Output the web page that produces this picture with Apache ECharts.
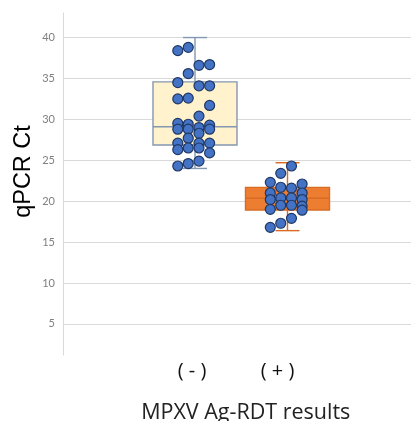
<!DOCTYPE html>
<html>
<head>
<meta charset="utf-8">
<script src="https://cdn.jsdelivr.net/npm/echarts@6/dist/echarts.min.js"></script>
<style>html,body{margin:0;padding:0;background:#fff}#c{width:411px;height:421px}</style>
</head>
<body>
<div id="c"></div>
<script>
// ---- data ----
const categories = ['( - )', '( + )'];
// [min, Q1, median, Q3, max]
const boxNeg = [24.0, 26.86, 29.09, 34.58, 40.0];
const boxPos = [16.4, 18.92, 20.35, 21.69, 24.7];
// swarm points: [column, Ct]
const dotsNeg = [
  [0, 38.4], [0, 34.5], [0, 32.5], [0, 29.5], [0, 28.8], [0, 27.1], [0, 26.3], [0, 24.3],
  [1, 38.8], [1, 35.6], [1, 32.6], [1, 29.4], [1, 28.8], [1, 27.7], [1, 26.5], [1, 24.6],
  [2, 36.6], [2, 34.1], [2, 30.4], [2, 29.0], [2, 28.3], [2, 27.1], [2, 26.5], [2, 24.9],
  [3, 36.7], [3, 34.1], [3, 31.7], [3, 29.3], [3, 28.8], [3, 27.1], [3, 25.9]
];
const dotsPos = [
  [0, 22.3], [0, 21.0], [0, 20.2], [0, 19.0], [0, 16.8],
  [1, 23.4], [1, 21.7], [1, 20.4], [1, 19.5], [1, 17.3],
  [2, 24.3], [2, 21.6], [2, 20.4], [2, 19.5], [2, 17.9],
  [3, 22.1], [3, 21.0], [3, 20.2], [3, 19.4], [3, 18.9]
];
const yTickLabels = [5, 10, 15, 20, 25, 30, 35, 40];
const yTitle = 'qPCR Ct';
const xTitle = 'MPXV Ag-RDT results';

// ---- styles ----
const colOffsets = [-0.186, -0.073, 0.043, 0.158];
const boxFill = ['#fff2cc', '#ed7d31'];
const boxStroke = ['#8497b0', '#d86c25'];
const yMin = 1.2, yMax = 43;

const chart = echarts.init(document.getElementById('c'), null, {renderer: 'canvas'});

function toPts(list, g) { return list.map(d => [g + colOffsets[d[0]], d[1]]); }

const labelFont = {fontFamily: 'Open Sans', fontSize: 20, color: '#111'};

const option = {
  backgroundColor: '#fff',
  animation: false,
  grid: [
    {left: 63, right: 0, top: 13, bottom: 66, outerBoundsMode: 'none'},
    {left: 148.75, width: 185, top: 13, bottom: 66, outerBoundsMode: 'none'}
  ],
  graphic: [
    {type: 'text', x: 24, y: 171.5, rotation: Math.PI / 2, silent: true,
     style: {text: yTitle, fontFamily: 'Liberation Sans', fontSize: 23.5, fill: '#000',
             align: 'center', verticalAlign: 'middle'}}
  ],
  xAxis: [
    {gridIndex: 0, type: 'value', min: 0, max: 1, show: false},
    {gridIndex: 1, type: 'category', data: categories,
     axisLine: {show: false}, axisTick: {show: false}, splitLine: {show: false},
     axisLabel: Object.assign({margin: 6, interval: 0, hideOverlap: false,
       formatter: v => v === categories[0] ? '{n|' + v + '}' : '{p|' + v + '}',
       rich: {n: Object.assign({padding: [0, 6, 0, 0]}, labelFont),
              p: Object.assign({padding: [0, 20, 0, 0]}, labelFont)}}, labelFont),
     name: xTitle, nameLocation: 'middle', nameGap: 47, nameMoveOverlap: false,
     nameTextStyle: {fontFamily: 'Open Sans', fontSize: 21.5, color: '#222', padding: [0, 0, 0, 9]}},
    {gridIndex: 1, type: 'value', min: -0.5, max: 1.5, show: false}
  ],
  yAxis: [
    {gridIndex: 0, type: 'value', min: yMin, max: yMax, splitNumber: 8,
     axisLine: {show: true, lineStyle: {color: '#d9d9d9', width: 1}},
     axisTick: {show: false},
     axisLabel: {color: '#7f7f7f', fontSize: 11, fontFamily: 'Lato', margin: 8,
       showMinLabel: false, showMaxLabel: false,
       formatter: v => yTickLabels.indexOf(Math.round(v * 100) / 100) >= 0 ? String(v) : ''},
     splitLine: {show: true, showMinLine: false, showMaxLine: false, lineStyle: {color: '#d9d9d9', width: 1}}},
    {gridIndex: 1, type: 'value', min: yMin, max: yMax, show: false}
  ],
  series: [
    {
      type: 'custom', xAxisIndex: 1, yAxisIndex: 1, z: 2,
      data: [[0].concat(boxNeg), [1].concat(boxPos)],
      renderItem: function (params, api) {
        const i = api.value(0);
        const c = k => api.coord([i, api.value(k)]);
        const lo = c(1), q1 = c(2), md = c(3), q3 = c(4), hi = c(5);
        const x = lo[0], bw = 84, cap = 24;
        const stroke = boxStroke[params.dataIndex], fill = boxFill[params.dataIndex];
        const ls = {stroke: stroke, lineWidth: 1.4, fill: null};
        return {type: 'group', children: [
          {type: 'line', shape: {x1: x, y1: lo[1], x2: x, y2: hi[1]}, style: ls},
          {type: 'line', shape: {x1: x - cap / 2, y1: lo[1], x2: x + cap / 2, y2: lo[1]}, style: ls},
          {type: 'line', shape: {x1: x - cap / 2, y1: hi[1], x2: x + cap / 2, y2: hi[1]}, style: ls},
          {type: 'rect', shape: {x: x - bw / 2, y: q3[1], width: bw, height: q1[1] - q3[1]},
           style: {fill: fill, stroke: stroke, lineWidth: 1.4}},
          {type: 'line', shape: {x1: x - bw / 2, y1: md[1], x2: x + bw / 2, y2: md[1]}, style: ls}
        ]};
      }
    },
    {
      type: 'scatter', xAxisIndex: 2, yAxisIndex: 1, z: 5,
      symbolSize: 10,
      itemStyle: {color: '#4472c4', borderColor: '#1f3864', borderWidth: 1.2, opacity: 1},
      data: toPts(dotsNeg, 0).concat(toPts(dotsPos, 1))
    }
  ]
};
chart.setOption(option);
</script>
</body>
</html>
